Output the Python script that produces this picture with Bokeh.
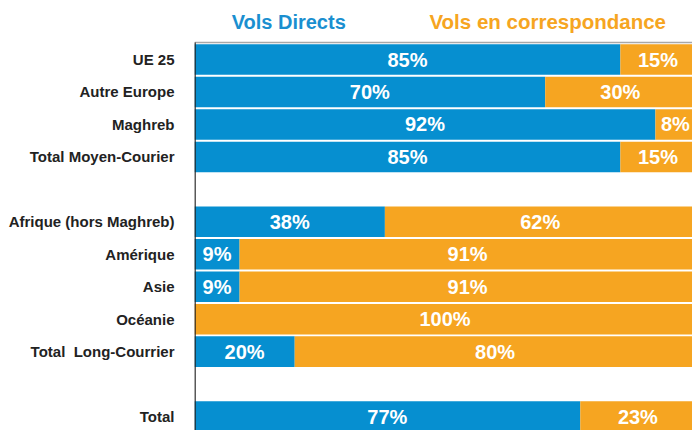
from bokeh.plotting import figure
from bokeh.models import ColumnDataSource, Range1d, FixedTicker, Label, LabelSet
from bokeh.core.properties import value
from bokeh.embed import file_html
from bokeh.resources import INLINE

categories = ["UE 25", "Autre Europe", "Maghreb", "Total Moyen-Courier", "",
              "Afrique (hors Maghreb)", "Amérique", "Asie", "Océanie", "Total\u00a0 Long-Courrier", "",
              "Total"]
directs = [85, 70, 92, 85, None, 38, 9, 9, 0, 20, None, 77]
correspondance = [15, 30, 8, 15, None, 62, 91, 91, 100, 80, None, 23]
series_names = ["Vols Directs", "Vols en correspondance"]

BLUE = "#068fd0"
ORANGE = "#f6a521"
FONT = "Liberation Sans"

rows = [i for i, c in enumerate(categories) if c]
d = [directs[i] for i in rows]
c = [correspondance[i] for i in rows]
src = ColumnDataSource(dict(
    y=rows,
    d_end=d,
    c_end=[a + b for a, b in zip(d, c)],
    d_mid=[v / 2 for v in d],
    c_mid=[a + b / 2 for a, b in zip(d, c)],
    d_lab=[f"{v}%" if v else "" for v in d],
    c_lab=[f"{v}%" if v else "" for v in c],
))

# geometry (in row units)
Y_TOP_LINE = -0.524
Y_BOTTOM = 11.43
Y_FRAME_TOP = -1.818
Y_HEADER = -1.17

p = figure(width=692, height=430, output_backend="svg", toolbar_location=None,
           x_range=Range1d(0, 99.4), y_range=Range1d(Y_BOTTOM, Y_FRAME_TOP),
           x_axis_location=None, min_border_left=194, min_border_top=0,
           min_border_right=0, min_border_bottom=0)

h = 0.94
p.hbar(y="y", left=0, right="d_end", height=h, source=src, color=BLUE, line_color=None)
p.hbar(y="y", left="d_end", right="c_end", height=h, source=src, color=ORANGE, line_color=None)

# frame lines: grey top rule and dark left axis line
p.segment(x0=[0], y0=[Y_TOP_LINE], x1=[100], y1=[Y_TOP_LINE], line_color="#a8a8a8", line_width=1.5)
p.segment(x0=[0.1], y0=[Y_TOP_LINE], x1=[0.1], y1=[Y_BOTTOM], line_color="#222222", line_width=1.5)

for xcol, tcol in (("d_mid", "d_lab"), ("c_mid", "c_lab")):
    p.add_layout(LabelSet(x=xcol, y="y", text=tcol, source=src, text_color="white",
                          text_font=value(FONT), text_font_style="bold", text_font_size="20px",
                          text_align="center", text_baseline="middle"))

p.add_layout(Label(x=18.8, y=Y_HEADER, text=series_names[0], text_color="#1a8fd0",
                   text_font=FONT, text_font_style="bold", text_font_size="20px",
                   text_align="center", text_baseline="middle"))
p.add_layout(Label(x=70.5, y=Y_HEADER, text=series_names[1], text_color="#f6a521",
                   text_font=FONT, text_font_style="bold", text_font_size="20.5px",
                   text_align="center", text_baseline="middle"))

p.xgrid.visible = False
p.ygrid.visible = False
p.outline_line_color = None

p.yaxis.ticker = FixedTicker(ticks=rows)
p.yaxis.major_label_overrides = {i: categories[i] for i in rows}
p.yaxis.axis_line_color = None
p.yaxis.major_tick_line_color = None
p.yaxis.minor_tick_line_color = None
p.yaxis.major_label_standoff = 14
p.yaxis.major_label_text_font = FONT
p.yaxis.major_label_text_font_style = "bold"
p.yaxis.major_label_text_font_size = "15px"
p.yaxis.major_label_text_color = "#222222"

open("out.html", "w").write(file_html(p, INLINE))
